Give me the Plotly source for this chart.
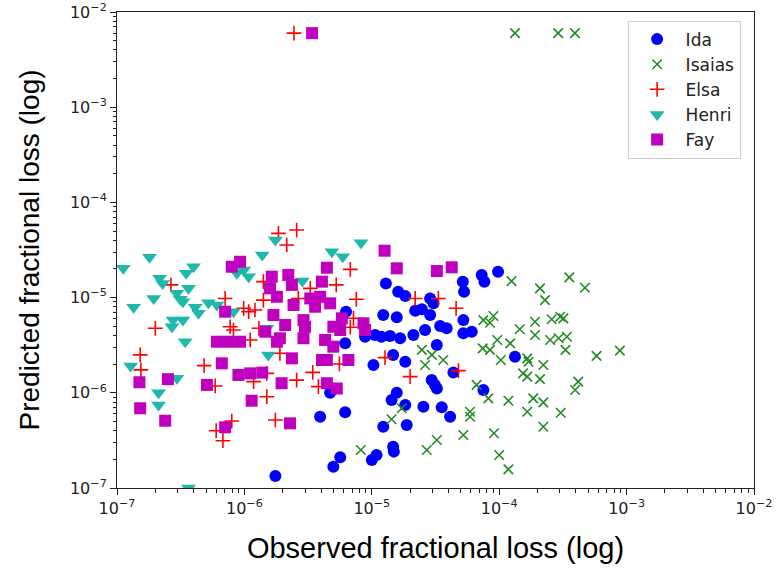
import plotly.graph_objects as go

# Observed vs predicted fractional loss per storm
ida_obs = [1.75e-6, 1.29e-5, 1.61e-5, 1.83e-5, 2.87e-5, 3.05e-5, 2.19e-5, 2.47e-5, 1.23e-5, 1.57e-5,
           2.87e-5, 6.28e-6, 8.86e-6, 1.06e-5, 1.19e-5, 1.39e-5, 1.67e-5, 2.12e-5, 2.62e-5, 3.44e-5,
           3.87e-5, 5.18e-5, 5.3e-5, 7.29e-5, 5.23e-5, 5.23e-5, 6.09e-5, 3.24e-5, 6.18e-6, 1.03e-5,
           1.47e-5, 1.83e-5, 4.37e-5, 2.95e-5, 3.13e-5, 3.24e-5, 4.71e-6, 1.57e-5, 1.43e-5, 1.83e-5,
           2.54e-5, 3.54e-5, 4.12e-5, 3.93e-6, 6.18e-6, 1.23e-5, 1.88e-5, 1.47e-5, 1.49e-5, 1.09e-5,
           1.0e-5, 5.65e-6, 4.99e-6, 7.51e-5, 7.65e-5, 9.8e-5, 1.33e-4]
ida_pred = [1.34e-7, 1.41e-5, 1.15e-5, 1.04e-5, 9.8e-6, 8.71e-6, 7.28e-6, 7.53e-6, 6.56e-6, 6.21e-6,
            6.56e-6, 7.11e-6, 3.88e-6, 4.05e-6, 3.88e-6, 3.95e-6, 3.74e-6, 4.05e-6, 4.57e-6, 5.03e-6,
            4.76e-6, 1.47e-5, 1.15e-5, 1.73e-5, 5.8e-6, 4.22e-6, 4.38e-6, 3.18e-6, 3.31e-6, 1.96e-6,
            2.5e-6, 2.12e-6, 1.63e-6, 1.36e-6, 1.21e-6, 1.11e-6, 1.0e-6, 1.0e-6, 8.4e-7, 7.45e-7,
            7.15e-7, 7.04e-7, 5.61e-7, 5.61e-7, 6.24e-7, 4.4e-7, 4.59e-7, 2.72e-7, 2.41e-7, 2.22e-7,
            1.97e-7, 2.1e-7, 1.67e-7, 1.07e-6, 1.47e-5, 1.87e-5, 2.39e-6]

isaias_obs = [7.51e-5, 7.42e-5, 2.47e-5, 2.96e-5, 2.62e-5, 3.64e-5, 6.65e-5, 8.22e-5, 5.9e-5, 5.9e-5,
              1.72e-5, 1.43e-5, 5.23e-5, 3.24e-5, 2.7e-5, 8.2e-6, 1.25e-4, 2.09e-4, 2.29e-4, 3.55e-4,
              4.71e-4, 9.0e-5, 8.47e-5, 1.45e-4, 1.91e-4, 1.91e-4, 2.58e-4, 3.01e-4, 3.19e-4, 9.65e-5,
              1.22e-4, 8.47e-5, 1.03e-4, 2.51e-4, 2.93e-4, 3.4e-4, 3.31e-4, 1.66e-4, 1.7e-4, 2.22e-4,
              1.54e-4, 1.66e-4, 2.09e-4, 5.81e-4, 8.85e-4, 1.18e-4, 1.85e-4, 2.22e-4, 1.66e-4, 3.04e-4,
              4.17e-4, 3.94e-4, 2.22e-4, 9.1e-5, 1.0e-4, 1.18e-4, 1.33e-4, 2.9e-4, 3.93e-4]
isaias_pred = [5.8e-6, 2.93e-6, 2.82e-6, 2.5e-6, 1.96e-6, 2.21e-6, 1.21e-6, 8.75e-7, 6.33e-7, 5.61e-7,
               6.88e-7, 5.27e-7, 3.6e-7, 3.19e-7, 2.51e-7, 2.51e-7, 1.49e-5, 1.25e-5, 9.4e-6, 1.63e-5,
               1.27e-5, 6.41e-6, 5.45e-6, 4.65e-6, 5.58e-6, 4.05e-6, 5.92e-6, 6.3e-6, 6.06e-6, 3.59e-6,
               3.31e-6, 2.82e-6, 2.21e-6, 3.59e-6, 3.74e-6, 3.88e-6, 2.82e-6, 2.3e-6, 2.12e-6, 1.96e-6,
               1.6e-6, 1.48e-6, 1.39e-6, 2.44e-6, 2.77e-6, 8.26e-7, 8.75e-7, 7.94e-7, 6.33e-7, 6.18e-7,
               1.31e-6, 1.07e-6, 4.4e-7, 3.76e-7, 2.22e-7, 1.57e-7, 6.0e-3, 6.0e-3, 6.0e-3]

elsa_obs = [1.85e-6, 2.15e-6, 2.57e-6, 2.65e-7, 7.06e-7, 1.41e-6, 1.41e-6, 9.87e-7, 1.08e-6, 1.21e-6,
            2.0e-7, 7.73e-7, 8.2e-7, 1.3e-6, 1.11e-6, 1.9e-6, 1.52e-7, 1.54e-7, 4.83e-7, 5.9e-7,
            1.18e-6, 1.5e-6, 2.57e-6, 1.5e-6, 1.75e-6, 7.96e-7, 6.0e-7, 6.78e-7, 6.78e-6, 5.26e-6,
            3.29e-6, 2.65e-6, 7.56e-6, 2.19e-5, 3.33e-5, 4.59e-5, 7.18e-6, 6.78e-6, 1.27e-5, 5.57e-6,
            3.44e-6, 3.81e-6, 2.0e-5, 4.79e-5, 2.45e-6]
elsa_pred = [4.73e-5, 3.57e-5, 5.13e-5, 1.36e-5, 9.8e-6, 9.4e-6, 1.47e-5, 7.72e-6, 7.11e-6, 7.41e-6,
             4.76e-6, 4.94e-6, 4.57e-6, 4.76e-6, 3.59e-6, 2.6e-6, 2.5e-6, 1.74e-6, 1.93e-6, 1.18e-6,
             1.31e-6, 1.6e-6, 1.36e-6, 9.1e-7, 5.18e-7, 5.05e-7, 4.0e-7, 3.14e-7, 1.98e-5, 1.36e-5,
             1.25e-5, 9.8e-6, 9.6e-6, 9.8e-6, 9.8e-6, 7.72e-6, 6.06e-6, 4.88e-6, 2.34e-6, 2.01e-6,
             1.64e-6, 1.16e-6, 1.48e-6, 1.71e-6, 6.0e-3]

henri_obs = [1.12e-7, 1.8e-7, 1.35e-7, 1.94e-7, 2.16e-7, 2.28e-7, 2.95e-7, 3.14e-7, 3.29e-7, 3.49e-7,
             3.98e-7, 3.64e-7, 2.75e-7, 2.7e-7, 3.29e-7, 3.43e-7, 4.11e-7, 4.36e-7, 5.22e-7, 6.08e-7,
             8.2e-7, 1.28e-7, 2.12e-7, 2.12e-7, 2.95e-7, 8.72e-7, 1.08e-6, 9.87e-7, 1.38e-6, 1.54e-6,
             1.75e-6, 1.5e-6, 3.64e-7, 4.86e-6, 5.92e-6, 8.22e-6, 2.85e-6]
henri_pred = [2.03e-5, 2.65e-5, 7.9e-6, 9.8e-6, 1.6e-5, 1.41e-5, 1.11e-5, 9.6e-6, 9.06e-6, 1.8e-5,
              2.11e-5, 1.25e-5, 5.8e-6, 4.94e-6, 5.8e-6, 3.44e-6, 7.9e-6, 6.84e-6, 8.84e-6, 8.36e-6,
              7.11e-6, 1.91e-6, 1.0e-6, 7.45e-7, 1.42e-6, 1.8e-5, 1.66e-5, 1.95e-5, 2.8e-5, 2.5e-6,
              4.03e-5, 4.76e-6, 1.0e-7, 3.03e-5, 2.69e-5, 3.77e-5, 1.49e-5]

fay_obs = [7.96e-7, 9.25e-7, 1.64e-6, 2.21e-6, 1.59e-6, 2.36e-6, 1.8e-6, 2.43e-6, 1.69e-6, 2.09e-6,
           7.06e-7, 1.46e-6, 6.08e-7, 7.49e-7, 9.25e-7, 1.9e-6, 1.8e-6, 2.36e-6, 6.65e-7, 8.98e-7,
           1.11e-6, 1.38e-6, 1.5e-7, 2.51e-7, 5.08e-7, 1.96e-6, 1.14e-6, 1.52e-7, 2.39e-7, 7.06e-7,
           2.28e-6, 1.26e-5, 1.57e-5, 3.24e-5, 4.24e-5, 4.44e-6, 4.06e-6, 3.29e-6, 3.93e-6, 4.71e-6,
           3.59e-6, 2.91e-6, 2.99e-6, 2.91e-6, 5.82e-6, 4.99e-6, 5.65e-6, 8.6e-6, 8.86e-6, 4.3e-6,
           4.99e-6, 4.44e-6, 6.55e-6, 4.06e-6, 4.44e-6, 5.31e-6, 3.4e-6]
fay_pred = [2.11e-5, 2.38e-5, 1.66e-5, 1.73e-5, 1.25e-5, 1.36e-5, 1.02e-5, 8.36e-6, 6.56e-6, 5.15e-6,
            7.11e-6, 4.38e-6, 3.44e-6, 3.44e-6, 3.44e-6, 3.74e-6, 3.44e-6, 2.3e-6, 2.04e-6, 1.54e-6,
            1.6e-6, 1.63e-6, 1.29e-6, 1.39e-6, 1.21e-6, 1.26e-6, 8.26e-7, 6.88e-7, 5.09e-7, 4.34e-7,
            4.78e-7, 3.11e-5, 2.03e-5, 1.9e-5, 2.08e-5, 2.06e-5, 1.47e-5, 9.8e-6, 1.02e-5, 8.71e-6,
            8.02e-6, 5.8e-6, 4.94e-6, 3.74e-6, 6.06e-6, 4.94e-6, 4.57e-6, 5.37e-6, 4.57e-6, 3.59e-6,
            3.05e-6, 2.21e-6, 2.21e-6, 2.21e-6, 1.26e-6, 1.11e-6, 6.0e-3]

decades = [-7, -6, -5, -4, -3, -2]
tick_vals = [10.0 ** d for d in decades]
tick_text = ["10<sup>\u2212%d</sup>" % -d for d in decades]
minor_vals = [k * 10.0 ** d for d in decades[:-1] for k in range(2, 10)]

fig = go.Figure()

series = [
    ("Ida", ida_obs, ida_pred, dict(symbol="circle", size=12, color="#0000ff")),
    ("Isaias", isaias_obs, isaias_pred,
     dict(symbol="x-thin", size=9.5, color="#228b22", line=dict(width=1.6, color="#228b22"))),
    ("Elsa", elsa_obs, elsa_pred,
     dict(symbol="cross-thin", size=10.5, color="#ff0000", line=dict(width=1.6, color="#ff0000"))),
    ("Henri", henri_obs, henri_pred, dict(symbol="triangle-down", size=13, color="#1fb8aa")),
    ("Fay", fay_obs, fay_pred, dict(symbol="square", size=12, color="#bf00bf")),
]
for name, xs, ys, mk in series:
    fig.add_trace(go.Scatter(x=xs, y=ys, mode="markers", name=name, marker=mk,
                             legendgroup=name))

axis_common = dict(
    type="log",
    automargin=False,
    tickmode="array",
    tickvals=tick_vals,
    ticktext=tick_text,
    ticks="outside",
    ticklen=6,
    tickwidth=1,
    tickcolor="#222",
    showline=True,
    linecolor="#222",
    linewidth=1,
    mirror=True,
    showgrid=False,
    zeroline=False,
    ticklabeloverflow="allow",
    tickfont=dict(family="DejaVu Sans", size=16, color="#222"),
    minor=dict(tickmode="array", tickvals=minor_vals, ticks="outside",
               ticklen=3.5, tickcolor="#222", showgrid=False),
)

fig.update_xaxes(range=[-7, -2],
                 title=dict(text="Observed fractional loss (log)", standoff=20,
                            font=dict(family="Liberation Sans", size=29, color="#000")),
                 **axis_common)
fig.update_yaxes(range=[-7, -2],
                 title=dict(text="Predicted fractional loss (log)", standoff=22,
                            font=dict(family="Liberation Sans", size=28, color="#000")),
                 **axis_common)

fig.update_layout(
    width=776,
    height=570,
    margin=dict(l=117, r=22, t=12, b=82),
    paper_bgcolor="white",
    plot_bgcolor="white",
    showlegend=True,
    legend=dict(
        x=0.979, y=0.982, xanchor="right", yanchor="top",
        bgcolor="rgba(255,255,255,0.9)",
        bordercolor="#cccccc", borderwidth=1,
        font=dict(family="DejaVu Sans", size=17, color="#222"),
        itemwidth=47,
        tracegroupgap=0,
    ),
)

fig.write_html("out.html")
